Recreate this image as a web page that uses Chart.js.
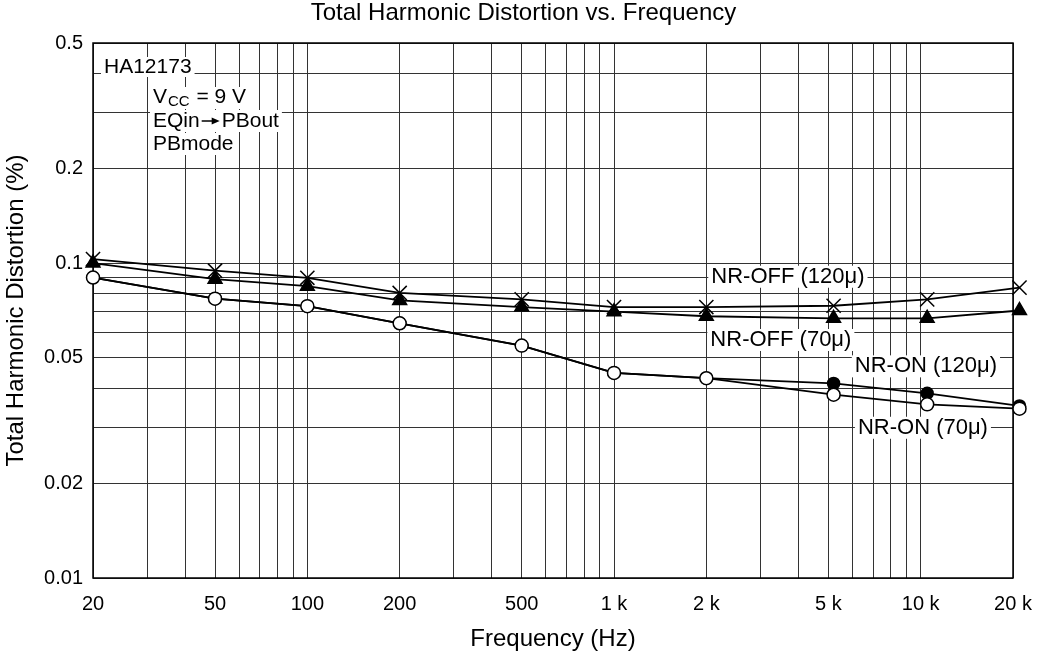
<!DOCTYPE html>
<html>
<head>
<meta charset="utf-8">
<script src="https://cdn.jsdelivr.net/npm/chart.js@4.4.0/dist/chart.umd.min.js"></script>
<style>
  html, body { margin: 0; padding: 0; background: #fff; }
  #wrap { width: 1047px; height: 656px; }
</style>
</head>
<body>
<div id="wrap"><canvas id="thdChart" width="1047" height="656"></canvas></div>
<script>
// measurement frequencies (Hz)
const frequencies = [20, 50, 100, 200, 500, 1000, 2000, 5200, 10500, 21000];

// THD readings (%) for each curve
const nrOff120 = [0.103, 0.0946, 0.0898, 0.0804, 0.0767, 0.0725, 0.0725, 0.0732, 0.0767, 0.0836];
const nrOff70  = [0.100, 0.0889, 0.0845, 0.0761, 0.0725, 0.0701, 0.0678, 0.0668, 0.0668, 0.0707];
const nrOn120  = [0.090, 0.0771, 0.0730, 0.0644, 0.0547, 0.0448, 0.0431, 0.0415, 0.0386, 0.0352];
const nrOn70   = [0.090, 0.0771, 0.0730, 0.0644, 0.0547, 0.0448, 0.0431, 0.0382, 0.0356, 0.0345];

// labelled ticks
const xLabelValues = [20, 50, 100, 200, 500, 1000, 2000, 5000, 10000, 20000];
const xLabelText = ['20', '50', '100', '200', '500', '1 k', '2 k', '5 k', '10 k', '20 k'];
const yLabelValues = [0.01, 0.02, 0.05, 0.1, 0.2, 0.5];
const yLabelText = ['0.01', '0.02', '0.05', '0.1', '0.2', '0.5'];

const FONT = "'Liberation Sans', Arial, sans-serif";
const TITLE = 'Total Harmonic Distortion vs. Frequency';

// 1..9 x 10^n grid between min and max
function decadeGrid(min, max) {
    const vals = [];
    for (let e = -3; e <= 5; e++) {
        for (let m = 1; m <= 9; m++) {
            const v = parseFloat((m * Math.pow(10, e)).toPrecision(6));
            if (v >= min * 0.9999 && v <= max * 1.0001) vals.push(v);
        }
    }
    return vals;
}

function labelFor(value, values, texts) {
    for (let i = 0; i < values.length; i++) {
        if (Math.abs(value - values[i]) / values[i] < 1e-6) return texts[i];
    }
    return '';
}

function toPoints(ys) {
    return frequencies.map((f, i) => ({ x: f, y: ys[i] }));
}

// text notes on the plot, anchored in data units
const curveNotes = [
    { text: 'NR-OFF (120\u03bc)', f: 3690, v: 0.0905 },
    { text: 'NR-OFF (70\u03bc)', f: 3500, v: 0.057 },
    { text: 'NR-ON (120\u03bc)', f: 10400, v: 0.047 },
    { text: 'NR-ON (70\u03bc)', f: 10170, v: 0.030 }
];

function whiteBox(ctx, x, cy, w, h) {
    ctx.fillStyle = '#fff';
    ctx.fillRect(x - 3, cy - h / 2, w + 6, h);
}

const notesPlugin = {
    id: 'notes',
    beforeDatasetsDraw(chart) {
        const { ctx, chartArea: a, scales } = chart;
        const x = scales.x, y = scales.y;
        ctx.save();
        ctx.textBaseline = 'middle';

        // curve labels
        ctx.font = '22px ' + FONT;
        curveNotes.forEach(n => {
            const px = x.getPixelForValue(n.f);
            const py = y.getPixelForValue(n.v);
            const w = ctx.measureText(n.text).width;
            whiteBox(ctx, px - w / 2, py, w, 22);
            ctx.fillStyle = '#000';
            ctx.textAlign = 'center';
            ctx.fillText(n.text, px, py);
        });

        // condition block, top left
        ctx.textAlign = 'left';
        ctx.font = '21px ' + FONT;
        const left = a.left;
        const top = a.top;
        let t = 'HA12173';
        let w = ctx.measureText(t).width;
        whiteBox(ctx, left + 11, top + 24, w, 20);
        ctx.fillStyle = '#000';
        ctx.fillText(t, left + 11, top + 24);

        const bx = left + 60;
        // V_CC = 9 V with subscript
        const wV = ctx.measureText('V').width;
        ctx.font = '15px ' + FONT;
        const wCC = ctx.measureText('CC').width;
        ctx.font = '21px ' + FONT;
        const wRest = ctx.measureText(' = 9 V').width;
        whiteBox(ctx, bx, top + 55, wV + wCC + wRest + 2, 22);
        ctx.fillStyle = '#000';
        ctx.fillText('V', bx, top + 54);
        ctx.font = '15px ' + FONT;
        ctx.fillText('CC', bx + wV + 1, top + 59);
        ctx.font = '21px ' + FONT;
        ctx.fillText(' = 9 V', bx + wV + wCC + 2, top + 54);

        // EQin -> PBout, arrow drawn as line + head
        const wEq = ctx.measureText('EQin').width;
        const wPb = ctx.measureText('PBout').width;
        const arrowW = 22;
        const ay = top + 78;
        whiteBox(ctx, bx, ay, wEq + arrowW + wPb, 22);
        ctx.fillStyle = '#000';
        ctx.fillText('EQin', bx, ay);
        const ax0 = bx + wEq + 2, ax1 = bx + wEq + arrowW - 2;
        ctx.strokeStyle = '#000';
        ctx.lineWidth = 1.5;
        ctx.beginPath();
        ctx.moveTo(ax0, ay);
        ctx.lineTo(ax1 - 6, ay);
        ctx.stroke();
        ctx.beginPath();
        ctx.moveTo(ax1, ay);
        ctx.lineTo(ax1 - 8, ay - 3.5);
        ctx.lineTo(ax1 - 8, ay + 3.5);
        ctx.closePath();
        ctx.fill();
        ctx.fillText('PBout', bx + wEq + arrowW, ay);

        t = 'PBmode';
        w = ctx.measureText(t).width;
        whiteBox(ctx, bx, top + 101, w, 22);
        ctx.fillStyle = '#000';
        ctx.fillText(t, bx, top + 101);

        // plot frame
        ctx.strokeStyle = '#000';
        ctx.lineWidth = 1.5;
        ctx.strokeRect(a.left, a.top, a.right - a.left, a.bottom - a.top);
        ctx.restore();
    },
    afterDraw(chart) {
        // page title, centred on the whole canvas
        const ctx = chart.ctx;
        ctx.save();
        ctx.font = '24px ' + FONT;
        ctx.fillStyle = '#000';
        ctx.textAlign = 'center';
        ctx.textBaseline = 'middle';
        ctx.fillText(TITLE, chart.width / 2, 13);
        ctx.restore();
    }
};

const xGrid = decadeGrid(20, 20000);
const yGrid = decadeGrid(0.01, 0.5);

const common = {
    borderColor: '#000',
    borderWidth: 1.8,
    pointBorderColor: '#000',
    pointBorderWidth: 1.5,
    clip: false,
    tension: 0
};

const ctx = document.getElementById('thdChart').getContext('2d');
const thdChart = new Chart(ctx, {
    type: 'line',
    data: {
        datasets: [
            Object.assign({}, common, {
                label: 'NR-ON (70\u03bc)',
                data: toPoints(nrOn70),
                pointStyle: 'circle',
                pointRadius: 6.5,
                pointBackgroundColor: '#fff'
            }),
            Object.assign({}, common, {
                label: 'NR-ON (120\u03bc)',
                data: toPoints(nrOn120),
                pointStyle: 'circle',
                pointRadius: 6,
                pointBackgroundColor: '#000'
            }),
            Object.assign({}, common, {
                label: 'NR-OFF (120\u03bc)',
                data: toPoints(nrOff120),
                pointStyle: 'crossRot',
                pointRadius: 10,
                pointBackgroundColor: '#000'
            }),
            Object.assign({}, common, {
                label: 'NR-OFF (70\u03bc)',
                data: toPoints(nrOff70),
                pointStyle: 'triangle',
                pointRadius: 8,
                pointBackgroundColor: '#000'
            })
        ]
    },
    options: {
        responsive: false,
        animation: false,
        devicePixelRatio: 1,
        layout: { padding: { left: 0, right: 34, top: 43, bottom: 0 } },
        plugins: {
            legend: { display: false },
            tooltip: { enabled: false },
            title: { display: false }
        },
        scales: {
            x: {
                type: 'logarithmic',
                min: 20,
                max: 20000,
                afterBuildTicks: axis => { axis.ticks = xGrid.map(v => ({ value: v })); },
                afterFit: axis => { axis.height = 78; },
                grid: { color: '#333', lineWidth: 1, drawTicks: false },
                border: { display: false },
                ticks: {
                    autoSkip: false,
                    maxRotation: 0,
                    padding: 14,
                    color: '#000',
                    font: { family: FONT, size: 20 },
                    callback: v => labelFor(v, xLabelValues, xLabelText)
                },
                title: {
                    display: true,
                    text: 'Frequency (Hz)',
                    color: '#000',
                    font: { family: FONT, size: 24 },
                    padding: { top: 0, bottom: 2 }
                }
            },
            y: {
                type: 'logarithmic',
                min: 0.01,
                max: 0.5,
                afterBuildTicks: axis => { axis.ticks = yGrid.map(v => ({ value: v })); },
                afterFit: axis => { axis.width = 93; },
                grid: { color: '#333', lineWidth: 1, drawTicks: false },
                border: { display: false },
                ticks: {
                    autoSkip: false,
                    padding: 10,
                    color: '#000',
                    font: { family: FONT, size: 20 },
                    callback: v => labelFor(v, yLabelValues, yLabelText)
                },
                title: {
                    display: true,
                    text: 'Total Harmonic Distortion (%)',
                    color: '#000',
                    font: { family: FONT, size: 24 },
                    padding: { top: 2, bottom: 0 }
                }
            }
        }
    },
    plugins: [notesPlugin]
});
</script>
</body>
</html>
